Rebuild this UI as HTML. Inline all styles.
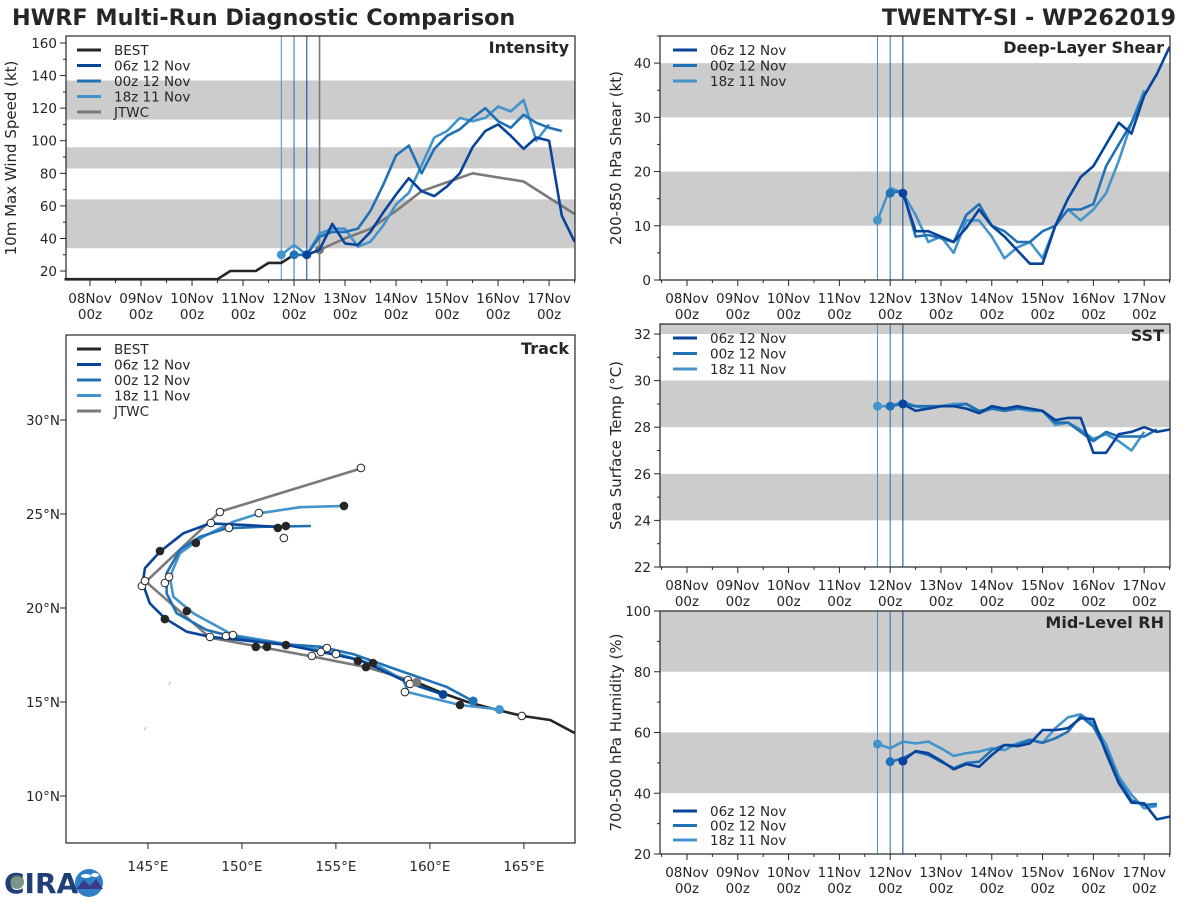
<!DOCTYPE html>
<html><head><meta charset="utf-8"><style>
html,body{margin:0;padding:0;background:#fff;}
svg text{font-family:"DejaVu Sans","Liberation Sans",sans-serif;fill:#262626;}
</style></head><body>
<svg id="fig" width="1200" height="900" viewBox="0 0 1200 900" xmlns="http://www.w3.org/2000/svg">
<rect width="1200" height="900" fill="#fff"/>
<text x="12" y="25" font-size="22.3" font-weight="bold">HWRF Multi-Run Diagnostic Comparison</text>
<text x="1176" y="25" font-size="22.3" font-weight="bold" text-anchor="end">TWENTY-SI - WP262019</text>
<g>
<text x="4" y="893" font-size="28" font-weight="bold" style="fill:#1f3f77">CIRA</text>
<circle cx="17" cy="882" r="7" fill="#5a7a6a" opacity="0.8"/>
<circle cx="89" cy="883" r="14" fill="#2f7fc7"/>
<path d="M76 889 L84 880 L90 886 L96 879 L103 889 Z" fill="#3a3a8a"/>
<ellipse cx="86" cy="876" rx="5" ry="2" fill="#fff"/><ellipse cx="95" cy="875" rx="4" ry="2" fill="#fff"/>
</g>
</svg>
<script>
// ===== DATA =====
const dayLabels=["08Nov","09Nov","10Nov","11Nov","12Nov","13Nov","14Nov","15Nov","16Nov","17Nov"];
const runNames=["06z 12 Nov","00z 12 Nov","18z 11 Nov"];
const runStart=[102,96,90];
const bestStart=-12;
const bestInt=[15,15,15,15,15,15,15,15,15,15,15,15,15,20,20,20,25,25,30,30,33];
const int06=[30,33,49,37,36,44,56,67,77,69,66,72,80,96,106,110,103,95,102,100,54,38];
const int00=[30,30,41,44,44,46,57,73,91,97,80,95,103,107,114,120,112,108,116,111,108,106];
const int18=[30,36,30,43,46,46,35,38,48,61,68,85,102,106,114,112,114,121,118,125,100,110];
const jtwcHours=[108,120,132,144,156,180,204,228];
const jtwcInt=[33,40,46,57,69,80,75,55];
const sh06=[16,9,9,8,7,9.6,13,10,8,5.5,3,3,10,15,19,21,25,29,27,34,38,43];
const sh00=[16,16.5,8,8.3,7.7,7,12,14,10,9,7,7,9,10,13,13,14,21,25,29,34,38];
const sh18=[11,17,16,12,7,8,5,11,11,8,4,6,7,4,10,13,11,13,16,22,29,35];
const sst06=[29,28.7,28.8,28.9,28.9,28.8,28.6,28.9,28.8,28.9,28.8,28.7,28.3,28.4,28.4,26.9,26.9,27.7,27.8,28.0,27.8,27.9];
const sst00=[28.9,29.0,28.9,28.9,28.9,28.9,29.0,28.7,28.8,28.7,28.8,28.8,28.7,28.2,28.2,27.8,27.4,27.8,27.6,27.6,27.6,27.9];
const sst18=[28.9,28.9,29.1,28.9,28.8,28.9,29.0,29.0,28.6,28.8,28.7,28.8,28.7,28.7,28.1,28.2,27.9,27.5,27.7,27.4,27.0,27.8];
const rh06=[50.6,53.9,53.2,50.7,47.9,49.6,48.7,52.6,55.9,55.5,56.4,60.8,60.8,61.4,64.7,64.4,53.2,43.3,36.9,36.7,31.4,32.3];
const rh00=[50.4,51.5,53.7,52.6,50.4,48.2,50,50.4,54.2,55.9,55.9,57.5,56.6,58.1,60.3,65.4,61.9,54.2,44.3,37.7,36.1,36.5];
const rh18=[56.2,54.8,57,56.4,57,54.8,52.3,53.2,53.7,54.8,54.2,56.4,57.7,56.6,61.4,65,66,63,56,45.5,39.5,35,35.8];
const bestLon=[167.7,166.4,164.9,163.5,162.0,160.6,159.3];
const bestLat=[13.35,14.04,14.26,14.6,15.0,15.5,16.05];
const trk06Lon=[160.7,158.94,156.28,154.15,152.38,148.3,147.06,145.9,145.1,144.72,144.84,145.64,146.88,148.3,150.25,152.38];
const trk06Lat=[15.4,15.99,17.23,17.68,18.03,18.47,18.74,19.45,20.25,21.31,22.11,23.0,23.97,24.5,24.41,24.29];
const trk00Lon=[162.3,160.88,157.78,155.92,154.15,152.02,149.54,148.12,146.53,145.99,145.99,146.7,147.77,149.19,150.96,153.67];
const trk00Lat=[15.05,15.81,16.88,17.55,17.94,18.09,18.47,18.83,19.72,20.78,21.85,23.09,23.79,24.24,24.32,24.36];
const trk18Lon=[163.7,161.6,158.85,158.58,157.34,155.04,152.73,149.54,147.41,146.35,146.17,146.7,147.94,149.54,150.96,153.09,155.44];
const trk18Lat=[14.6,14.84,15.52,16.17,16.88,17.59,18.03,18.56,19.72,20.6,21.66,22.91,23.79,24.59,25.04,25.36,25.43];
const jtwcLon=[159.3,156.63,153.79,148.3,144.89,148.83,156.37];
const jtwcLat=[16.05,16.85,17.41,18.42,21.4,25.12,27.43];
const blackDotLon=[145.64,145.90,147.07,147.55,150.74,151.33,152.34,152.34,151.91,155.43,156.17,156.60,156.97,161.60];
const blackDotLat=[23.03,19.41,19.84,23.46,17.93,17.93,18.03,24.36,24.26,25.43,17.18,16.86,17.07,14.84];
const openDotLon=[156.33,148.83,148.35,149.31,150.90,152.23,144.68,144.84,145.90,146.12,148.30,149.15,149.52,153.72,154.20,154.52,155.0,158.67,158.83,158.94,164.89];
const openDotLat=[27.45,25.11,24.52,24.26,25.05,23.72,21.17,21.44,21.33,21.65,18.46,18.51,18.56,17.45,17.66,17.87,17.55,15.53,16.17,15.96,14.26];
const lonTicks=[145,150,155,160,165];
const latTicks=[10,15,20,25,30];

// ===== STYLE =====
const C={best:"#262626",r06:"#08449a",r00:"#2171b5",r18:"#4494cc",jtwc:"#7a7a7a",band:"#cccccc"};
const svg=document.getElementById('fig');
const NS="http://www.w3.org/2000/svg";
function el(tag,attrs,parent){const e=document.createElementNS(NS,tag);for(const k in attrs)e.setAttribute(k,attrs[k]);(parent||svg).appendChild(e);return e;}
function txt(s,attrs,parent){const e=el('text',attrs,parent);e.textContent=s;return e;}

function timePanel(cfg){
  const g=el('g',{});
  
  
  const sx=h=>cfg.x0+(h-cfg.hmin)/(cfg.hmax-cfg.hmin)*(cfg.x1-cfg.x0);
  const sy=v=>cfg.y1-(v-cfg.vmin)/(cfg.vmax-cfg.vmin)*(cfg.y1-cfg.y0);
  cfg.bands.forEach(b=>{
    const top=sy(Math.min(b[1],cfg.vmax)),bot=sy(Math.max(b[0],cfg.vmin));
    const r=el('rect',{x:cfg.x0,y:top,width:cfg.x1-cfg.x0,height:bot-top,fill:C.band},g);
    
    
  });
  const vl=[[90,C.r18,1],[96,C.r00,1],[102,C.r06,1]];
  if(cfg.jtwc) vl.push([108,C.jtwc,1.6]);
  vl.forEach(v=>{const l=el('line',{x1:sx(v[0]),x2:sx(v[0]),y1:cfg.y0,y2:cfg.y1,stroke:v[1],'stroke-width':v[2]},g);
    
    });
  return {g,sx,sy};
}
function axesFrame(cfg,P){
  const g=P.g;
  el('rect',{x:cfg.x0,y:cfg.y0,width:cfg.x1-cfg.x0,height:cfg.y1-cfg.y0,fill:'none',stroke:'#262626','stroke-width':1.2},g);
  for(let h=-12;h<=228;h+=12){const x=P.sx(h);if(x<cfg.x0||x>cfg.x1)continue;const major=h%24===0;
    el('line',{x1:x,x2:x,y1:cfg.y1,y2:cfg.y1+(major?6:3),stroke:'#262626','stroke-width':1},g);}
  dayLabels.forEach((d,i)=>{const x=P.sx(i*24);
    const t=txt(d,{x:x,y:cfg.y1+23,'font-size':13.5,'text-anchor':'middle'},g);
    
    
    txt('00z',{x:x,y:cfg.y1+39,'font-size':13.5,'text-anchor':'middle'},g);});
  for(let v=Math.ceil(cfg.vmin/cfg.minor)*cfg.minor;v<=cfg.vmax;v+=cfg.minor){
    const y=P.sy(v);const major=Math.abs(v/cfg.major-Math.round(v/cfg.major))<1e-6;
    el('line',{x1:cfg.x0-(major?6:3),x2:cfg.x0,y1:y,y2:y,stroke:'#262626','stroke-width':1},g);
    if(major){const t=txt(String(Math.round(v)),{x:cfg.x0-9,y:y+5,'font-size':13.5,'text-anchor':'end'},g);
      
      }
  }
  const yt=txt(cfg.ylabel,{x:0,y:0,'font-size':15,'text-anchor':'middle',transform:`translate(${cfg.ylx},${(cfg.y0+cfg.y1)/2}) rotate(-90)`},g);
  
  
  const pt=txt(cfg.title,{x:cfg.x1-6,y:cfg.y0+17,'font-size':16,'font-weight':'bold','text-anchor':'end'},g);
  
  
}
function series(P,start,vals,color,name,dot){
  const pts=vals.map((v,i)=>P.sx(start+i*6).toFixed(1)+','+P.sy(v).toFixed(1)).join(' ');
  const l=el('polyline',{points:pts,fill:'none',stroke:color,'stroke-width':2.6,'stroke-linejoin':'round'},P.g);
  
  
  if(dot){const c=el('circle',{cx:P.sx(start),cy:P.sy(vals[0]),r:4.5,fill:color},P.g);
    
    }
}
function legend(g,x,y,entries,dy){
  entries.forEach((e,i)=>{const yy=y+i*dy;
    const l=el('line',{x1:x,x2:x+24,y1:yy,y2:yy,stroke:e[1],'stroke-width':3},g);
    
    
    const t=txt(e[0],{x:x+37,y:yy+5,'font-size':13.5},g);
    
    });
}

// Intensity
const cI={name:'intensity-panel',x0:66,x1:575,y0:36,y1:280,hmin:-11.3,hmax:228.2,vmin:14.5,vmax:164.3,bands:[[34,64],[83,96],[113,137]],jtwc:true,major:20,minor:10,ylabel:'10m Max Wind Speed (kt)',ylx:16,title:'Intensity'};
const PI=timePanel(cI);
series(PI,bestStart,bestInt,C.best,'best-intensity-line',false);
{const pts=jtwcHours.map((h,i)=>PI.sx(h).toFixed(1)+','+PI.sy(jtwcInt[i]).toFixed(1)).join(' ');
 const l=el('polyline',{points:pts,fill:'none',stroke:C.jtwc,'stroke-width':2.6},PI.g);
 
 
 const c=el('circle',{cx:PI.sx(jtwcHours[0]),cy:PI.sy(jtwcInt[0]),r:4.5,fill:C.jtwc},PI.g);
 
 }
series(PI,runStart[2],int18,C.r18,'intensity-18z-line',true);
series(PI,runStart[1],int00,C.r00,'intensity-00z-line',true);
series(PI,runStart[0],int06,C.r06,'intensity-06z-line',true);
axesFrame(cI,PI);
legend(PI.g,77,50,[["BEST",C.best],[runNames[0],C.r06],[runNames[1],C.r00],[runNames[2],C.r18],["JTWC",C.jtwc]],15.5);

// Shear
const cS={name:'shear-panel',x0:660,x1:1170,y0:36,y1:280,hmin:-12.75,hmax:228.2,vmin:0,vmax:45,bands:[[10,20],[30,40]],major:10,minor:5,ylabel:'200-850 hPa Shear (kt)',ylx:621,title:'Deep-Layer Shear'};
const PS=timePanel(cS);
series(PS,runStart[2],sh18,C.r18,'shear-18z-line',true);
series(PS,runStart[1],sh00,C.r00,'shear-00z-line',true);
series(PS,runStart[0],sh06,C.r06,'shear-06z-line',true);
axesFrame(cS,PS);
legend(PS.g,673,50,[[runNames[0],C.r06],[runNames[1],C.r00],[runNames[2],C.r18]],15.5);

// SST
const cT={name:'sst-panel',x0:660,x1:1170,y0:324,y1:567,hmin:-12.75,hmax:228.2,vmin:22,vmax:32.43,bands:[[24,26],[28,30],[32,40]],major:2,minor:1,ylabel:'Sea Surface Temp (°C)',ylx:621,title:'SST'};
const PT=timePanel(cT);
series(PT,runStart[2],sst18,C.r18,'sst-18z-line',true);
series(PT,runStart[1],sst00,C.r00,'sst-00z-line',true);
series(PT,runStart[0],sst06,C.r06,'sst-06z-line',true);
axesFrame(cT,PT);
legend(PT.g,673,338,[[runNames[0],C.r06],[runNames[1],C.r00],[runNames[2],C.r18]],15.5);

// RH
const cR={name:'rh-panel',x0:660,x1:1170,y0:611,y1:854,hmin:-12.75,hmax:228.2,vmin:20,vmax:100,bands:[[40,60],[80,100]],major:20,minor:10,ylabel:'700-500 hPa Humidity (%)',ylx:621,title:'Mid-Level RH'};
const PR=timePanel(cR);
series(PR,runStart[2],rh18,C.r18,'rh-18z-line',true);
series(PR,runStart[1],rh00,C.r00,'rh-00z-line',true);
series(PR,runStart[0],rh06,C.r06,'rh-06z-line',true);
axesFrame(cR,PR);
legend(PR.g,673,811,[[runNames[0],C.r06],[runNames[1],C.r00],[runNames[2],C.r18]],14.5);

// Track
const cK={x0:66,x1:575,y0:335,y1:843,lonmin:140.64,lonmax:167.72,latmin:7.5,latmax:34.52};
const gK=el('g',{});


const lx=lo=>cK.x0+(lo-cK.lonmin)/(cK.lonmax-cK.lonmin)*(cK.x1-cK.x0);
const ly=la=>cK.y1-(la-cK.latmin)/(cK.latmax-cK.latmin)*(cK.y1-cK.y0);
const clip=el('clipPath',{id:'trkclip'},gK);el('rect',{x:cK.x0,y:cK.y0,width:cK.x1-cK.x0,height:cK.y1-cK.y0},clip);
const gT=el('g',{'clip-path':'url(#trkclip)'},gK);
el('path',{d:`M${lx(146.1)} ${ly(15.9)} l2 -3`,stroke:'#bbb','stroke-width':1},gT);
el('path',{d:`M${lx(144.8)} ${ly(13.5)} l2 -3`,stroke:'#bbb','stroke-width':1},gT);
function track(lons,lats,color,name){
  const pts=lons.map((lo,i)=>lx(lo).toFixed(1)+','+ly(lats[i]).toFixed(1)).join(' ');
  const l=el('polyline',{points:pts,fill:'none',stroke:color,'stroke-width':2.6,'stroke-linejoin':'round'},gT);
  
  
}
track(bestLon,bestLat,C.best,'best-track-line');
track(jtwcLon,jtwcLat,C.jtwc,'jtwc-track-line');
track(trk18Lon,trk18Lat,C.r18,'track-18z-line');
track(trk00Lon,trk00Lat,C.r00,'track-00z-line');
track(trk06Lon,trk06Lat,C.r06,'track-06z-line');
blackDotLon.forEach((lo,i)=>{const c=el('circle',{cx:lx(lo),cy:ly(blackDotLat[i]),r:4.3,fill:'#262626'},gT);
  
  });
openDotLon.forEach((lo,i)=>{const c=el('circle',{cx:lx(lo),cy:ly(openDotLat[i]),r:3.8,fill:'#fff',stroke:'#262626','stroke-width':1},gT);
  
  });
[[trk18Lon,trk18Lat,C.r18],[trk00Lon,trk00Lat,C.r00],[trk06Lon,trk06Lat,C.r06],[jtwcLon,jtwcLat,C.jtwc]].forEach(t=>{
  const c=el('circle',{cx:lx(t[0][0]),cy:ly(t[1][0]),r:4.5,fill:t[2]},gT);
  
  });
el('rect',{x:cK.x0,y:cK.y0,width:cK.x1-cK.x0,height:cK.y1-cK.y0,fill:'none',stroke:'#262626','stroke-width':1.2},gK);
lonTicks.forEach(lo=>{const x=lx(lo);el('line',{x1:x,x2:x,y1:cK.y1,y2:cK.y1+6,stroke:'#262626'},gK);
  const t=txt(lo+'°E',{x:x,y:cK.y1+28,'font-size':13.5,'text-anchor':'middle'},gK);
  
  });
latTicks.forEach(la=>{const y=ly(la);el('line',{x1:cK.x0-6,x2:cK.x0,y1:y,y2:y,stroke:'#262626'},gK);
  const t=txt(la+'°N',{x:cK.x0-6,y:y+5,'font-size':13.5,'text-anchor':'end'},gK);
  
  });
const tt=txt('Track',{x:cK.x1-6,y:cK.y0+19,'font-size':16,'font-weight':'bold','text-anchor':'end'},gK);


legend(gK,77,349,[["BEST",C.best],[runNames[0],C.r06],[runNames[1],C.r00],[runNames[2],C.r18],["JTWC",C.jtwc]],15.5);
</script>
</body></html>
